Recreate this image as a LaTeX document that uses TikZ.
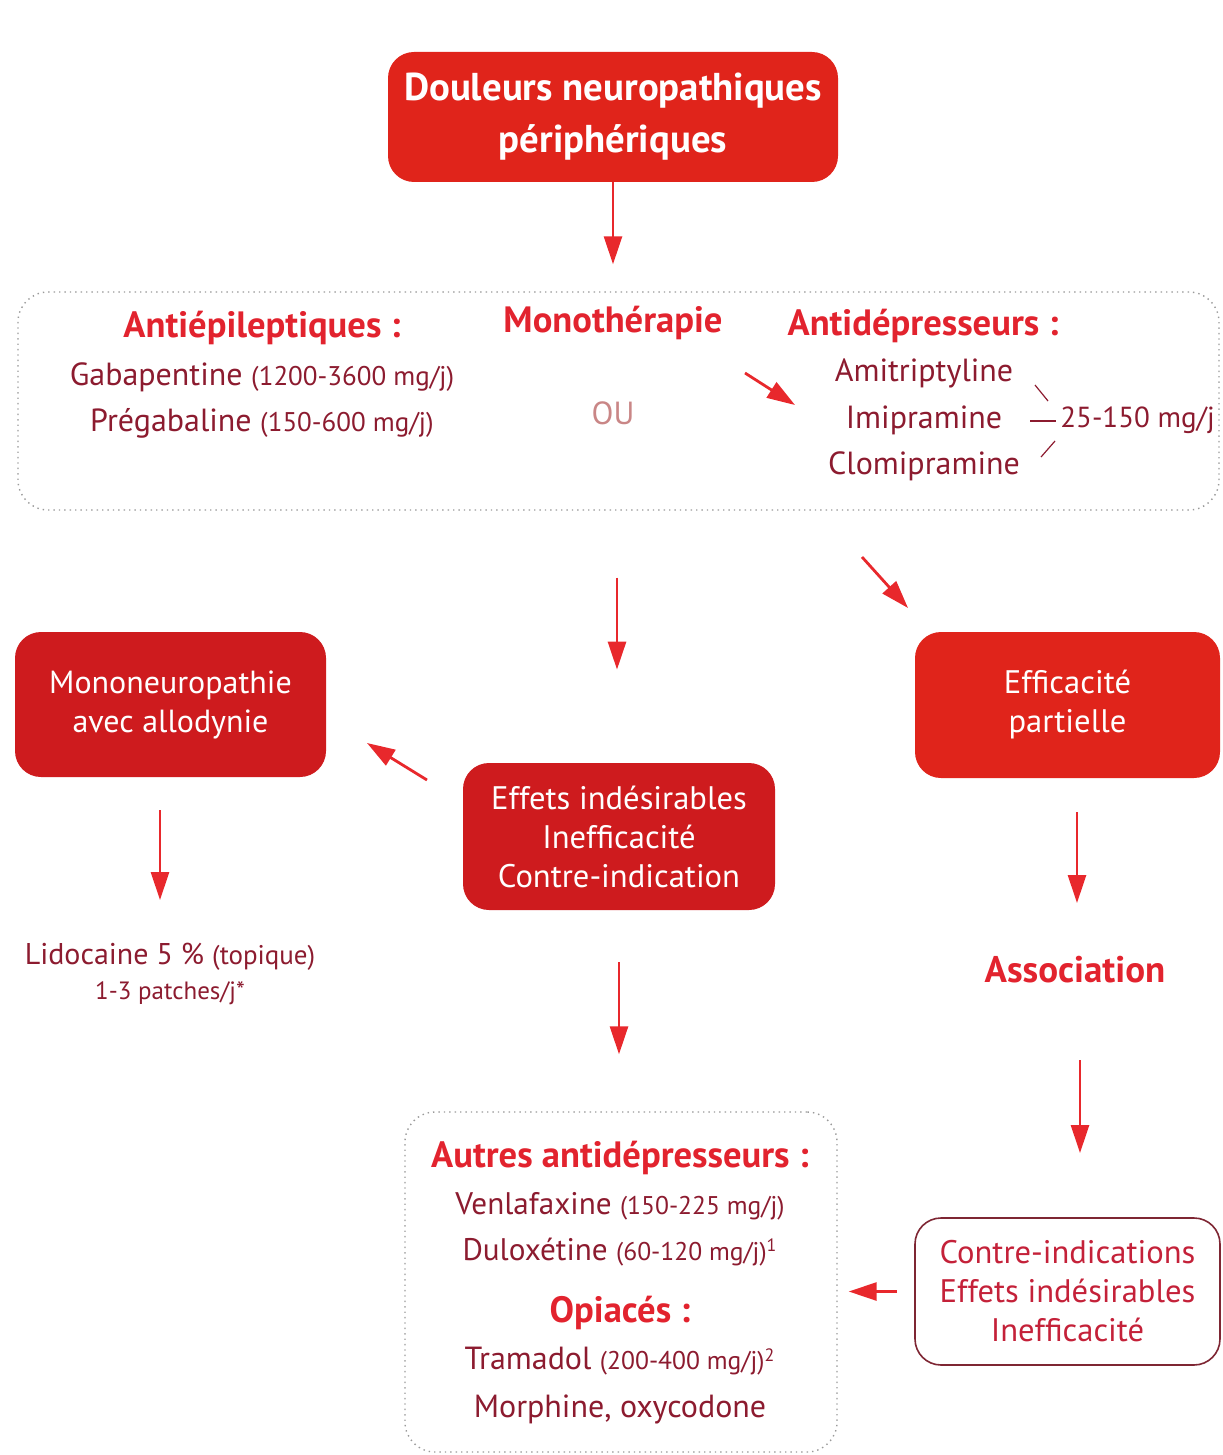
\documentclass[tikz,border=0pt]{standalone}
\usepackage{fontspec}
\setmainfont{PT Sans}
\usetikzlibrary{arrows.meta,calc}
\definecolor{boxred}{HTML}{E0241B}
\definecolor{boxdark}{HTML}{CE1B1E}
\definecolor{headred}{HTML}{E2232E}
\definecolor{bodyred}{HTML}{8C1B2F}
\definecolor{arrred}{HTML}{E8282C}
\definecolor{ourose}{HTML}{C98686}
\definecolor{framegray}{HTML}{9A9A9A}
\definecolor{ciframe}{HTML}{7E2633}
\definecolor{citext}{HTML}{C42139}
\newcommand\parsmall[1]{{\fontsize{13.5}{12}\selectfont #1}}
\newcommand\parsmaller[1]{{\fontsize{12.8}{12}\selectfont #1}}
\begin{document}
\begin{tikzpicture}[x=0.5pt,y=-0.5pt,
  arr/.style={draw=arrred, line width=1.4pt, -{Triangle[length=14pt,width=9pt]}},
  fillbox/.style={rounded corners=13pt, fill=boxred, text=white, align=center, inner sep=0pt},
  darkbox/.style={fillbox, fill=boxdark, font=\fontsize{16.3}{19.5}\selectfont},
  dotbox/.style={draw=framegray, dotted, line width=0.7pt, rounded corners=15pt, inner sep=0pt},
  head/.style={text=headred, font=\fontsize{18.3}{20}\selectfont\bfseries, inner sep=0pt},
  body/.style={text=bodyred, font=\fontsize{16}{23}\selectfont, align=center, inner sep=0pt},
  brace/.style={draw=bodyred, line width=0.6pt}
]
\useasboundingbox (0,0) rectangle (1222,1455);

% boxes
\node[fillbox, minimum width=225pt, minimum height=65pt,
      font=\fontsize{19.4}{26}\selectfont\bfseries] (top) at (613,117)
      {Douleurs neuropathiques\\périphériques};
\node[dotbox, minimum width=600.5pt, minimum height=109pt] (mono) at (618.5,401) {};
\node[darkbox, font=\fontsize{16}{19.5}\selectfont, minimum width=155.5pt, minimum height=72.5pt] (mn) at (170.5,704.5)
      {Mononeuropathie\\avec allodynie};
\node[darkbox, minimum width=156pt, minimum height=73.5pt] (effets) at (619,836.5)
      {Effets indésirables\\Inefficacité\\Contre-indication};
\node[darkbox, fill=boxred, minimum width=152.5pt, minimum height=73pt] (effic) at (1067.5,705)
      {Efficacité\\partielle};
\node[dotbox, minimum width=216pt, minimum height=170pt] (autres) at (621,1282) {};
\node[draw=ciframe, line width=0.8pt, rounded corners=13pt, text=citext, align=center,
      inner sep=0pt, minimum width=152.5pt, minimum height=73.5pt,
      font=\fontsize{16.3}{19.5}\selectfont] (ci) at (1067.5,1291.5)
      {Contre-indications\\Effets indésirables\\Inefficacité};

% texts in monotherapy box
\node[head] (antiep) at (262,328) {Antiépileptiques :};
\node[body] (antieplist) at (262,400)
      {Gabapentine \parsmall{(1200-3600 mg/j)}\\Prégabaline \parsmall{(150-600 mg/j)}};
\node[head] (monoth) at (613,323) {Monothérapie};
\node[text=ourose, font=\fontsize{16}{18}\selectfont, inner sep=0pt] (ou) at (613,413) {OU};
\node[head] (antidep) at (923,326) {Antidépresseurs :};
\node[body, font=\fontsize{16}{23.25}\selectfont] (antideplist) at (924,420)
      {Amitriptyline\\Imipramine\\Clomipramine};
\node[body, anchor=west, font=\fontsize{14.5}{18}\selectfont] (dose) at (1060,420) {25-150 mg/j};
\coordinate (b1a) at (1035,385); \coordinate (b1b) at (1048,401);
\coordinate (b2a) at (1030,421); \coordinate (b2b) at (1056,421);
\coordinate (b3a) at (1041,457); \coordinate (b3b) at (1055,441);
\draw[brace] (b1a) -- (b1b);
\draw[brace] (b2a) -- (b2b);
\draw[brace] (b3a) -- (b3b);

% lidocaine
\node[body, font=\fontsize{15}{18}\selectfont] (lido) at (170,957)
      {Lidocaine 5 \% \parsmall{(topique)}};
\node[body, font=\fontsize{12.5}{14}\selectfont] (patch) at (170,993) {1-3 patches/j*};

% association
\node[head, font=\fontsize{18.5}{20}\selectfont\bfseries] (assoc) at (1075,970) {Association};

% bottom box texts
\node[head] (autreshead) at (620,1158) {Autres antidépresseurs :};
\node[body, font=\fontsize{15.6}{23}\selectfont] (autreslist) at (620,1229)
      {Venlafaxine \parsmaller{(150-225 mg/j)}\\Duloxétine \parsmaller{(60-120 mg/j)\textsuperscript{1}}};
\node[head] (opiac) at (620,1313) {Opiacés :};
\node[body, font=\fontsize{16}{24}\selectfont] (opilist) at (620,1386)
      {Tramadol \parsmaller{(200-400 mg/j)\textsuperscript{2}}\\Morphine, oxycodone};

% arrows
\draw[arr, shorten >=13.5pt] (top.south) -- (top.south |- mono.north);
\coordinate (m1) at (745,373); \coordinate (m2) at (795,405);
\draw[arr] (m1) -- (m2);
\draw[arr, shorten <=33.5pt, shorten >=46.5pt] ([xshift=-1pt]effets.north |- mono.south) -- ([xshift=-1pt]effets.north);
\coordinate (d1) at (862,557); \coordinate (d2) at (908,608);
\draw[arr] (d1) -- (d2);
\coordinate (e1) at (427,780); \coordinate (e2) at (367,743);
\draw[arr] (e1) -- (e2);
\coordinate (l1) at (160,810); \coordinate (l2) at (160,900);
\draw[arr] (l1) -- (l2);
\coordinate (p1) at (1077,812); \coordinate (p2) at (1077,903);
\draw[arr] (p1) -- (p2);
\draw[arr, shorten <=26pt, shorten >=28.5pt] (effets.south) -- (effets.south |- autres.north);
\coordinate (q1) at (1080,1060); \coordinate (q2) at (1080,1153);
\draw[arr] (q1) -- (q2);
\draw[arr, shorten <=8.5pt, shorten >=5.5pt] (ci.west) -- (ci.west -| autres.east);
\end{tikzpicture}
\end{document}
